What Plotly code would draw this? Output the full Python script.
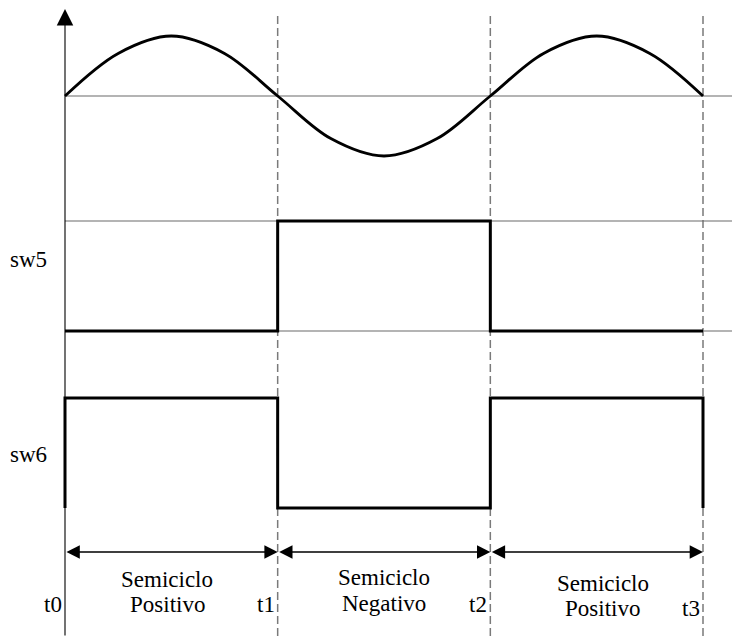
import plotly.graph_objects as go

# ---------------- data ----------------
t_marks = [0, 1, 2, 3]
t_labels = ["t0", "t1", "t2", "t3"]

sine_t = [0, 0.25, 0.5, 0.75, 1, 1.25, 1.5, 1.75, 2, 2.25, 2.5, 2.75, 3]
sine_v = [0, 0.71, 1, 0.71, 0, -0.71, -1, -0.71, 0, 0.71, 1, 0.71, 0]

sw5_t = [0, 1, 2, 3]
sw5_v = [0, 1, 0, 0]

sw6_t = [0, 0, 1, 2, 3, 3]
sw6_v = [0, 1, 0, 1, 1, 0]

signal_names = ["sw5", "sw6"]
period_top = ["Semiciclo", "Semiciclo", "Semiciclo"]
period_bottom = ["Positivo", "Negativo", "Positivo"]

# ---------------- layout helpers ----------------
OFF = 8                      # page body margin in the browser
SW, SH = 740, 637            # screen size
W, H = SW - OFF, SH - OFF    # figure size


def fx(px):
    return px - OFF


T0_PX, T3_PX = fx(65), fx(703)
unit = (T3_PX - T0_PX) / (t_marks[-1] - t_marks[0])
x_range = [-T0_PX / unit, (W - T0_PX) / unit]


def yrange(px0, px1):
    """value 0 drawn at screen row px0, value 1 at px1"""
    p0, p1 = fx(px0), fx(px1)
    b = p1 - p0
    return [(H - p0) / b, (0 - p0) / b]


def py(px):
    return 1 - fx(px) / H


FONT = "Liberation Serif, Times New Roman, serif"
fs = 23

fig = go.Figure()
fig.add_trace(go.Scatter(x=sine_t, y=sine_v, mode="lines", yaxis="y",
                         line=dict(color="black", width=2.8, shape="spline", smoothing=1.0)))
fig.add_trace(go.Scatter(x=sw5_t, y=sw5_v, mode="lines", yaxis="y2",
                         line=dict(color="black", width=3, shape="hv")))
fig.add_trace(go.Scatter(x=sw6_t, y=sw6_v, mode="lines", yaxis="y3",
                         line=dict(color="black", width=3, shape="hv")))

shapes = []
grey = "#6a6a6a"
shapes.append(dict(type="line", xref="x", yref="y", x0=t_marks[0], x1=x_range[1], y0=0, y1=0,
                   line=dict(color=grey, width=1.2), layer="below"))
for lv in (0, 1):
    shapes.append(dict(type="line", xref="x", yref="y2", x0=t_marks[0], x1=x_range[1], y0=lv, y1=lv,
                       line=dict(color=grey, width=1.2), layer="below"))
for t in t_marks[1:]:
    shapes.append(dict(type="line", xref="x", yref="paper", x0=t, x1=t, y0=py(16), y1=0,
                       line=dict(color="#7a7a7a", width=1.5, dash="8px,4px"), layer="below"))

annotations = []
annotations.append(dict(x=t_marks[0], y=py(8), xref="x", yref="paper", text="", showarrow=True,
                        axref="pixel", ayref="pixel", ax=0, ay=H - fx(8) + 5, arrowhead=2,
                        arrowsize=3.0, arrowwidth=1.1, arrowcolor="black", standoff=0, startstandoff=0))
for i in range(3):
    annotations.append(dict(x=t_marks[i + 1], y=py(552), xref="x", yref="paper", text="",
                            showarrow=True, axref="x", ayref="pixel", ax=t_marks[i], ay=0,
                            arrowhead=2, arrowside="end+start", arrowsize=1.9, arrowwidth=1.4,
                            arrowcolor="black", standoff=0, startstandoff=0))
shifts = [-4, 0, 6]
top_y = [579, 577, 583]
bot_y = [604, 603, 608]
for i in range(3):
    xc = (t_marks[i] + t_marks[i + 1]) / 2
    annotations.append(dict(x=xc, y=py(top_y[i]), xref="x", yref="paper", text=period_top[i],
                            showarrow=False, xshift=shifts[i], yanchor="middle",
                            font=dict(family=FONT, size=fs, color="black")))
    annotations.append(dict(x=xc, y=py(bot_y[i]), xref="x", yref="paper", text=period_bottom[i],
                            showarrow=False, xshift=shifts[i], yanchor="middle",
                            font=dict(family=FONT, size=fs, color="black")))
t_y = [604, 604, 604, 608]
for t, lab, yy in zip(t_marks, t_labels, t_y):
    annotations.append(dict(x=t, y=py(yy), xref="x", yref="paper", text=lab, showarrow=False,
                            xanchor="right", xshift=-1, yanchor="middle",
                            font=dict(family=FONT, size=fs, color="black")))
for name, yy in zip(signal_names, [259, 455]):
    annotations.append(dict(x=t_marks[0], y=py(yy), xref="x", yref="paper", text=name,
                            showarrow=False, xanchor="right", xshift=-16, yanchor="middle",
                            font=dict(family=FONT, size=fs, color="black")))

fig.update_layout(
    width=W, height=H,
    margin=dict(l=0, r=0, t=0, b=0),
    paper_bgcolor="white", plot_bgcolor="white",
    showlegend=False,
    font=dict(family=FONT, size=fs, color="black"),
    xaxis=dict(range=x_range, visible=False),
    yaxis=dict(range=yrange(96, 36), visible=False, domain=[0, 1]),
    yaxis2=dict(range=yrange(331, 221), visible=False, overlaying="y"),
    yaxis3=dict(range=yrange(508, 398), visible=False, overlaying="y"),
    shapes=shapes,
    annotations=annotations,
)

fig.write_html("out.html")
